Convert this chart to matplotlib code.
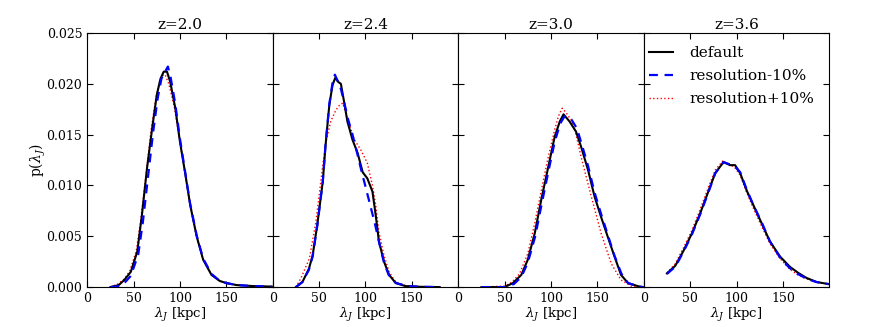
import matplotlib
matplotlib.use('Agg')
import matplotlib.pyplot as plt

plt.rcParams['font.family'] = 'DejaVu Serif'
plt.rcParams['mathtext.fontset'] = 'dejavuserif'
plt.rcParams['xtick.direction'] = 'in'
plt.rcParams['ytick.direction'] = 'in'
plt.rcParams['xtick.top'] = True
plt.rcParams['ytick.right'] = True
plt.rcParams['font.size'] = 10

# redshift panels
titles = ['z=2.0', 'z=2.4', 'z=3.0', 'z=3.6']
labels = ['default', 'resolution-10%', 'resolution+10%']

# z=2.0
x1_def = [25, 34, 40, 47, 54, 59, 64.5, 70, 75, 79, 82.5, 86, 89.5, 95, 100, 106, 111, 118, 125, 134, 143, 150, 161, 179, 199]
p1_def = [0.0, 0.0002, 0.0007, 0.0015, 0.0035, 0.0071, 0.0117, 0.0156, 0.0189, 0.0205, 0.0212, 0.0212, 0.0202, 0.0176, 0.0143,
          0.0110, 0.0081, 0.0050, 0.0027, 0.0012, 0.0006, 0.0004, 0.0002, 0.0001, 0.00005]
x1_lo = [25, 35, 40, 47, 55, 60, 66, 71, 76, 80, 84, 87, 90, 95, 100, 106, 111, 118, 125, 134, 143, 150, 161, 180, 199]
p1_lo = [0.0, 0.0001, 0.0004, 0.0011, 0.0032, 0.0064, 0.0112, 0.0152, 0.0186, 0.0205, 0.0212, 0.0217, 0.0206, 0.0180, 0.0146,
         0.0111, 0.0082, 0.0051, 0.0028, 0.0013, 0.0006, 0.0004, 0.0002, 0.0001, 0.00005]
x1_hi = [25, 33, 40, 46, 53, 58, 64, 69, 74, 78, 81, 84, 88, 94, 100, 106, 111, 118, 125, 134, 143, 150, 161, 179, 199]
p1_hi = [0.0, 0.0003, 0.0008, 0.0016, 0.0036, 0.0068, 0.0115, 0.0155, 0.0186, 0.0202, 0.0208, 0.0209, 0.0200, 0.0177, 0.0143,
         0.0109, 0.0080, 0.0049, 0.0027, 0.0012, 0.0006, 0.0004, 0.0002, 0.0001, 0.00005]

# z=2.4
x2_def = [25, 32, 39, 43, 48, 54, 57, 61, 64.5, 67.5, 70.5, 73.5, 77, 80.5, 86, 91.5, 97, 102, 107.5, 111, 114.5, 120, 125.5,
          132.5, 143, 160, 180]
p2_def = [0.0, 0.0005, 0.0018, 0.0031, 0.0061, 0.0104, 0.0140, 0.0179, 0.0199, 0.0206, 0.0202, 0.0200, 0.0182, 0.0163, 0.0145,
          0.0132, 0.0113, 0.0107, 0.0094, 0.0071, 0.0045, 0.0025, 0.0012, 0.0004, 0.0001, 0.00003, 0.0]
x2_lo = [25, 32, 39, 43, 48, 54, 57, 61, 64.5, 67, 70, 73.5, 77, 81, 86, 91, 96, 100, 105, 110, 115, 120, 125, 133, 145, 160, 180]
p2_lo = [0.0, 0.0005, 0.0017, 0.0030, 0.0060, 0.0104, 0.0141, 0.0180, 0.0201, 0.0209, 0.0203, 0.0195, 0.0182, 0.0166, 0.0150,
         0.0132, 0.0113, 0.0099, 0.0081, 0.0063, 0.0043, 0.0024, 0.0012, 0.0004, 0.0001, 0.00003, 0.0]
x2_hi = [25, 30.5, 39.5, 46.5, 50, 54, 57.5, 62.5, 68, 72, 75.5, 80.5, 88, 95, 102, 107.5, 111, 114.5, 120, 125.5, 132.5, 145,
         160, 180]
p2_hi = [0.0, 0.0009, 0.0028, 0.0064, 0.0090, 0.0120, 0.0143, 0.0163, 0.0174, 0.0179, 0.0181, 0.0166, 0.0145, 0.0135, 0.0122,
         0.0100, 0.0081, 0.0054, 0.0031, 0.0015, 0.0005, 0.0001, 0.00003, 0.0]

# z=3.0
x3_def = [25, 50, 59, 68, 75, 82.5, 89.5, 97, 104, 109.5, 113.5, 120, 127, 132.5, 140, 147, 154, 161, 168.5, 175.5, 183, 193.5, 199]
p3_def = [0.0, 0.0, 0.0004, 0.0012, 0.0027, 0.0053, 0.0086, 0.0118, 0.0148, 0.0163, 0.0170, 0.0163, 0.0153, 0.0138, 0.0115,
          0.0089, 0.0069, 0.0050, 0.0030, 0.0012, 0.0004, 0.0001, 0.0]
x3_lo = [25, 50, 60, 68, 75, 83, 90, 97, 104, 110, 114.5, 117, 122, 128, 133, 140, 147, 154, 161, 168, 176, 183, 193, 199]
p3_lo = [0.0, 0.0, 0.0003, 0.0010, 0.0024, 0.0050, 0.0082, 0.0113, 0.0143, 0.0161, 0.0168, 0.0167, 0.0165, 0.0156, 0.0141,
         0.0119, 0.0093, 0.0072, 0.0052, 0.0032, 0.0013, 0.0004, 0.0001, 0.0]
x3_hi = [25, 50, 58, 66, 75, 82.5, 89.5, 97, 104, 108, 112, 116, 122, 127, 132.5, 143.5, 154, 165, 175.5, 186.5, 199]
p3_hi = [0.0, 0.0001, 0.0005, 0.0013, 0.0033, 0.0063, 0.0095, 0.0128, 0.0155, 0.0168, 0.0176, 0.0172, 0.0164, 0.0150, 0.0128,
         0.0089, 0.0053, 0.0023, 0.0007, 0.0001, 0.0]

# z=3.6
x4_def = [25, 34, 43, 52, 61, 70, 77, 86, 93, 98.5, 104, 111, 118, 127, 136, 147, 157.5, 166.5, 175.5, 186.5, 199]
p4_def = [0.00135, 0.0021, 0.0036, 0.0053, 0.0073, 0.0095, 0.0112, 0.0123, 0.0120, 0.0120, 0.0112, 0.0095, 0.0081, 0.0063,
          0.0045, 0.0030, 0.0020, 0.0014, 0.0009, 0.0005, 0.0003]
x4_lo = [25, 34, 43, 52, 61, 70, 77, 86, 92, 98, 104, 111, 118, 127, 136, 147, 157, 166, 176, 186, 199]
p4_lo = [0.0013, 0.0020, 0.0035, 0.0052, 0.0072, 0.0094, 0.0112, 0.0123, 0.0121, 0.0119, 0.0113, 0.0096, 0.0081, 0.0064,
         0.0045, 0.0029, 0.0019, 0.0013, 0.0008, 0.0005, 0.0003]
x4_hi = [25, 34, 43, 52, 61, 70, 77, 85, 92, 98, 104, 111, 118, 127, 136, 147, 157, 166, 176, 186, 199]
p4_hi = [0.0014, 0.0023, 0.0039, 0.0056, 0.0077, 0.0099, 0.0115, 0.0124, 0.0121, 0.0118, 0.0110, 0.0093, 0.0078, 0.0060,
         0.0043, 0.0028, 0.0018, 0.0012, 0.0008, 0.0005, 0.0003]

panels = [
    ((x1_def, p1_def), (x1_lo, p1_lo), (x1_hi, p1_hi)),
    ((x2_def, p2_def), (x2_lo, p2_lo), (x2_hi, p2_hi)),
    ((x3_def, p3_def), (x3_lo, p3_lo), (x3_hi, p3_hi)),
    ((x4_def, p4_def), (x4_lo, p4_lo), (x4_hi, p4_hi)),
]

fig, axes = plt.subplots(1, 4, sharey=True, figsize=(8.72, 3.27), dpi=100)
fig.subplots_adjust(left=0.1, right=0.951, top=0.899, bottom=0.122, wspace=0)

for ax, title, (d, lo, hi) in zip(axes, titles, panels):
    ax.plot(d[0], d[1], color='black', lw=1.5, zorder=3, label=labels[0])
    ax.plot(lo[0], lo[1], color='blue', lw=1.6, ls='--', dashes=(4, 3), zorder=4, label=labels[1])
    ax.plot(hi[0], hi[1], color='red', lw=1.0, ls=':', zorder=2, label=labels[2])
    ax.set_title(title, fontsize=11, pad=3)
    ax.set_xlim(0, 200)
    ax.set_xticks([0, 50, 100, 150])
    ax.set_xlabel(r'$\lambda_J$ [kpc]', fontsize=9.5, labelpad=1)
    ax.tick_params(labelsize=9, length=4)

axes[0].set_ylim(0, 0.025)
axes[0].set_yticks([0, 0.005, 0.01, 0.015, 0.02, 0.025])
axes[0].yaxis.set_major_formatter(matplotlib.ticker.FormatStrFormatter('%.3f'))
axes[0].set_ylabel(r'p($\lambda_J$)', fontsize=10, labelpad=-1)

leg = axes[3].legend(loc='upper left', bbox_to_anchor=(0.027, 0.948), frameon=False, fontsize=11,
                     handlelength=1.57, handletextpad=1.1, borderaxespad=0, borderpad=0, labelspacing=0.58)

fig.savefig('out.png', dpi=100)
